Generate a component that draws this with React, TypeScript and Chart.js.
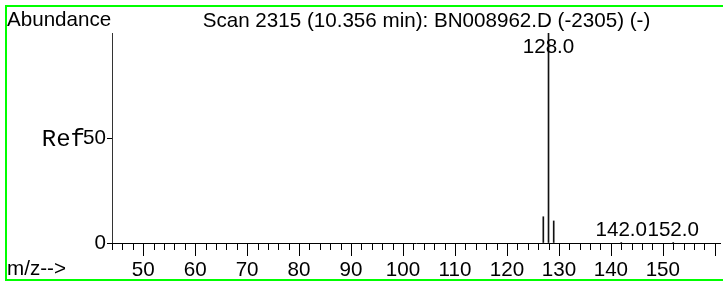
import React, { useEffect, useRef } from "react";
import { Chart, registerables } from "chart.js";

Chart.register(...registerables);

// ---- data ----
const mzValues = [127, 128, 129, 142, 152];
const abundances = [12.5, 100, 10.5, 0.3, 0.3];
const labeledPeaks = [128, 142, 152];
const peakLabelTexts = ["128.0", "142.0", "152.0"];
const xTickLabels = [50, 60, 70, 80, 90, 100, 110, 120, 130, 140, 150];
const yTickValues = [0, 50];
const xMin = 44;
const xMax = 161;
const xMinorStep = 2;
const xLastTick = 160;
const titleText = "Scan 2315 (10.356 min): BN008962.D (-2305) (-)";
const yAxisName = "Abundance";
const xAxisName = "m/z-->";
const refText = "Ref";

const SANS = "'Liberation Sans', Arial, sans-serif";
const MONO = "'Courier New', 'Liberation Mono', monospace";
const FS = 20.6;

const decorPlugin = {
  id: "decor",
  afterDraw(chart: any) {
    const ctx = chart.ctx as CanvasRenderingContext2D;
    const xs = chart.scales.x;
    const ys = chart.scales.y;
    const area = chart.chartArea;
    ctx.save();

    // x tick marks (major / minor)
    ctx.strokeStyle = "#000";
    ctx.lineWidth = 1;
    for (let v = xMin; v <= xLastTick; v += xMinorStep) {
      const px = Math.round(xs.getPixelForValue(v)) + 0.5;
      const len = v % 10 === 0 ? 13 : 7;
      ctx.beginPath();
      ctx.moveTo(px, area.bottom);
      ctx.lineTo(px, area.bottom + len);
      ctx.stroke();
    }

    // texts
    ctx.fillStyle = "#000";
    ctx.font = `${FS}px ${SANS}`;
    ctx.textBaseline = "alphabetic";
    ctx.textAlign = "left";
    ctx.fillText(yAxisName, 7, 26);
    ctx.fillText(xAxisName, 7, 275);
    ctx.textAlign = "center";
    ctx.fillText(titleText, 426.5, 27);

    // Ref label
    ctx.font = `24px ${MONO}`;
    ctx.textAlign = "right";
    ctx.fillText(refText, 85, ys.getPixelForValue(50) + 8);

    // peak labels
    ctx.font = `${FS}px ${SANS}`;
    ctx.textAlign = "center";
    labeledPeaks.forEach((mz, i) => {
      const idx = mzValues.indexOf(mz);
      const py = ys.getPixelForValue(abundances[idx]);
      const px = xs.getPixelForValue(mz);
      const by = Math.max(py - 6, area.top + 20);
      ctx.fillText(peakLabelTexts[i], px, by);
    });

    // green frame
    ctx.strokeStyle = "#00ff00";
    ctx.lineWidth = 2;
    ctx.strokeRect(6, 6, 740, 274);
    ctx.restore();
  },
};

export default function App() {
  const ref = useRef<HTMLCanvasElement | null>(null);

  useEffect(() => {
    if (!ref.current) return;
    const chart = new Chart(ref.current, {
      type: "bar",
      data: {
        datasets: [
          {
            data: mzValues.map((x, i) => ({ x, y: abundances[i] })),
            backgroundColor: "#111",
            borderWidth: 0,
            barThickness: 1,
          } as any,
        ],
      },
      options: {
        animation: false,
        responsive: false,
        events: [],
        layout: { padding: { left: 0, top: 33, right: 3, bottom: 0 } },
        plugins: { legend: { display: false }, tooltip: { enabled: false }, title: { display: false } },
        scales: {
          x: {
            type: "linear",
            min: xMin,
            max: xMax,
            offset: false,
            grid: { display: false, offset: false },
            border: { display: true, color: "#000", width: 1 },
            afterBuildTicks: (scale: any) => {
              scale.ticks = xTickLabels.map((v) => ({ value: v }));
            },
            afterFit: (scale: any) => {
              scale.height = 40;
            },
            ticks: {
              autoSkip: false,
              maxRotation: 0,
              color: "#000",
              padding: 7,
              font: { family: SANS, size: FS },
              callback: (v: any) => String(v),
            },
          },
          y: {
            type: "linear",
            min: 0,
            max: 100,
            grid: { drawOnChartArea: false, tickLength: 5, color: "#000" },
            border: { display: true, color: "#333", width: 1 },
            afterBuildTicks: (scale: any) => {
              scale.ticks = yTickValues.map((v) => ({ value: v }));
            },
            afterFit: (scale: any) => {
              scale.width = 112;
            },
            ticks: {
              color: "#000",
              padding: 1,
              font: { family: SANS, size: FS },
              callback: (v: any) => String(v),
            },
          },
        },
      } as any,
      plugins: [decorPlugin],
    });
    return () => chart.destroy();
  }, []);

  return (
    <div style={{ position: "absolute", left: 0, top: 0, width: 723, height: 283, background: "#fff" }}>
      <canvas ref={ref} width={723} height={283} style={{ display: "block" }} />
    </div>
  );
}
